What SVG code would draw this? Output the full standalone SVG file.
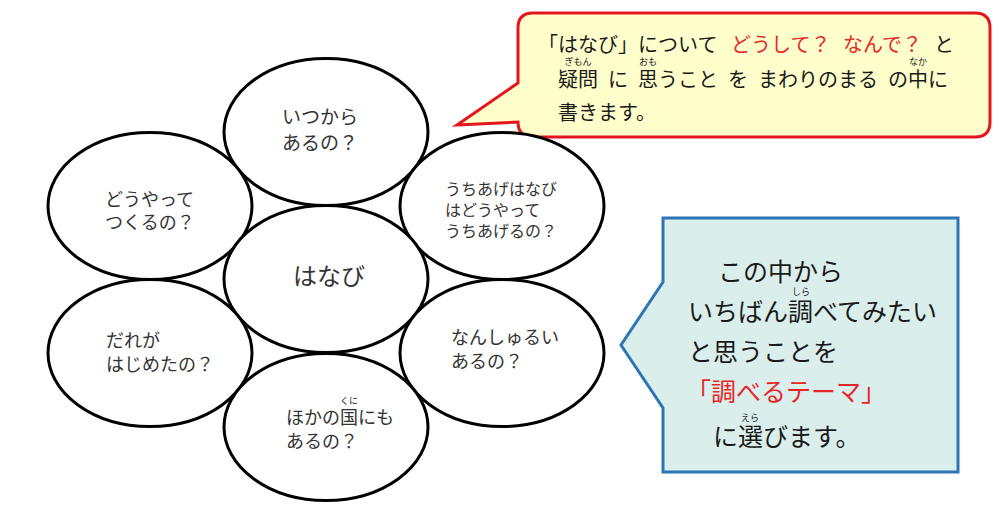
<svg xmlns="http://www.w3.org/2000/svg" width="1000" height="516" viewBox="0 0 1000 516">
<style>
.el{fill:#fff;stroke:#000;stroke-width:3}
.t{font-family:"Noto Sans CJK JP","Noto Sans",sans-serif;fill:#333}
.c{font-family:"Noto Sans CJK JP","Noto Sans",sans-serif;fill:#1a1a1a}
.red{fill:#e8262a}
.rb{font-family:"Noto Sans CJK JP",sans-serif;font-size:9px;fill:#1a1a1a;text-anchor:middle}
</style>
<rect width="1000" height="516" fill="#fff"/>
<g id="callout-top">
<path d="M533,13 H975 Q990,13 990,28 V122 Q990,137 975,137 H533 Q518,137 518,122 L457,125 L518,83 V28 Q518,13 533,13 Z" fill="#ffffcc" stroke="#e3161e" stroke-width="3" stroke-linejoin="miter"/>
<text class="c" font-size="20" y="52"><tspan x="538">「はなび」について</tspan><tspan class="red" x="731">どうして？</tspan><tspan class="red" x="843">なんで？</tspan><tspan x="934">と</tspan></text>
<text class="c" font-size="20" y="87"><tspan x="558">疑問</tspan><tspan x="608">に</tspan><tspan x="638">思うこと</tspan><tspan x="728">を</tspan><tspan x="758">まわりのまる</tspan><tspan x="888">の中に</tspan></text>
<text class="rb" y="65"><tspan x="578">ぎもん</tspan><tspan x="648">おも</tspan><tspan x="918">なか</tspan></text>
<text class="c" font-size="20" x="558" y="120">書きます。</text>
</g>
<g id="callout-right">
<path d="M663,218 H958 V472 H663 V408 L621,345 L663,282 Z" fill="#daeeec" stroke="#2e75b6" stroke-width="3"/>
<text class="c" font-size="25" x="718" y="281">この中から</text>
<text class="c" font-size="25" x="688" y="321">いちばん調べてみたい</text>
<text class="c" font-size="25" x="688" y="361">と思うことを</text>
<text class="c red" font-size="25" x="686" y="401">「調べるテーマ」</text>
<text class="c" font-size="25" x="713" y="446">に選びます。</text>
<text class="rb" x="801" y="295">しら</text>
<text class="rb" x="750" y="421">えら</text>
</g>
<g id="n-top">
<ellipse class="el" cx="326" cy="132" rx="102" ry="73.5"/>
<text class="t" font-size="19" x="282" y="124">いつから</text>
<text class="t" font-size="19" x="282" y="150">あるの？</text>
</g>
<g id="n-left">
<ellipse class="el" cx="150" cy="206" rx="102" ry="73.5"/>
<text class="t" font-size="18" x="105" y="206">どうやって</text>
<text class="t" font-size="18" x="105" y="229">つくるの？</text>
</g>
<g id="n-right">
<ellipse class="el" cx="502" cy="206" rx="102" ry="73.5"/>
<text class="t" font-size="16" x="445" y="195">うちあげはなび</text>
<text class="t" font-size="16" x="445" y="216">はどうやって</text>
<text class="t" font-size="16" x="445" y="237">うちあげるの？</text>
</g>
<g id="n-center">
<ellipse class="el" cx="326" cy="279" rx="102" ry="73.5"/>
<text class="t" font-size="24" x="293" y="285">はなび</text>
</g>
<g id="n-bottom-left">
<ellipse class="el" cx="150" cy="353" rx="102" ry="73.5"/>
<text class="t" font-size="18" x="106" y="347">だれが</text>
<text class="t" font-size="18" x="106" y="371">はじめたの？</text>
</g>
<g id="n-bottom-right">
<ellipse class="el" cx="502" cy="353" rx="102" ry="73.5"/>
<text class="t" font-size="18" x="451" y="344">なんしゅるい</text>
<text class="t" font-size="18" x="451" y="368">あるの？</text>
</g>
<g id="n-bottom">
<ellipse class="el" cx="326" cy="427" rx="102" ry="73.5"/>
<text class="t" font-size="18" x="286" y="424">ほかの国にも</text>
<text class="t" font-size="18" x="286" y="448">あるの？</text>
<text class="rb" x="349" y="404" fill="#333">くに</text>
</g>
<g id="connectors"></g>
</svg>
